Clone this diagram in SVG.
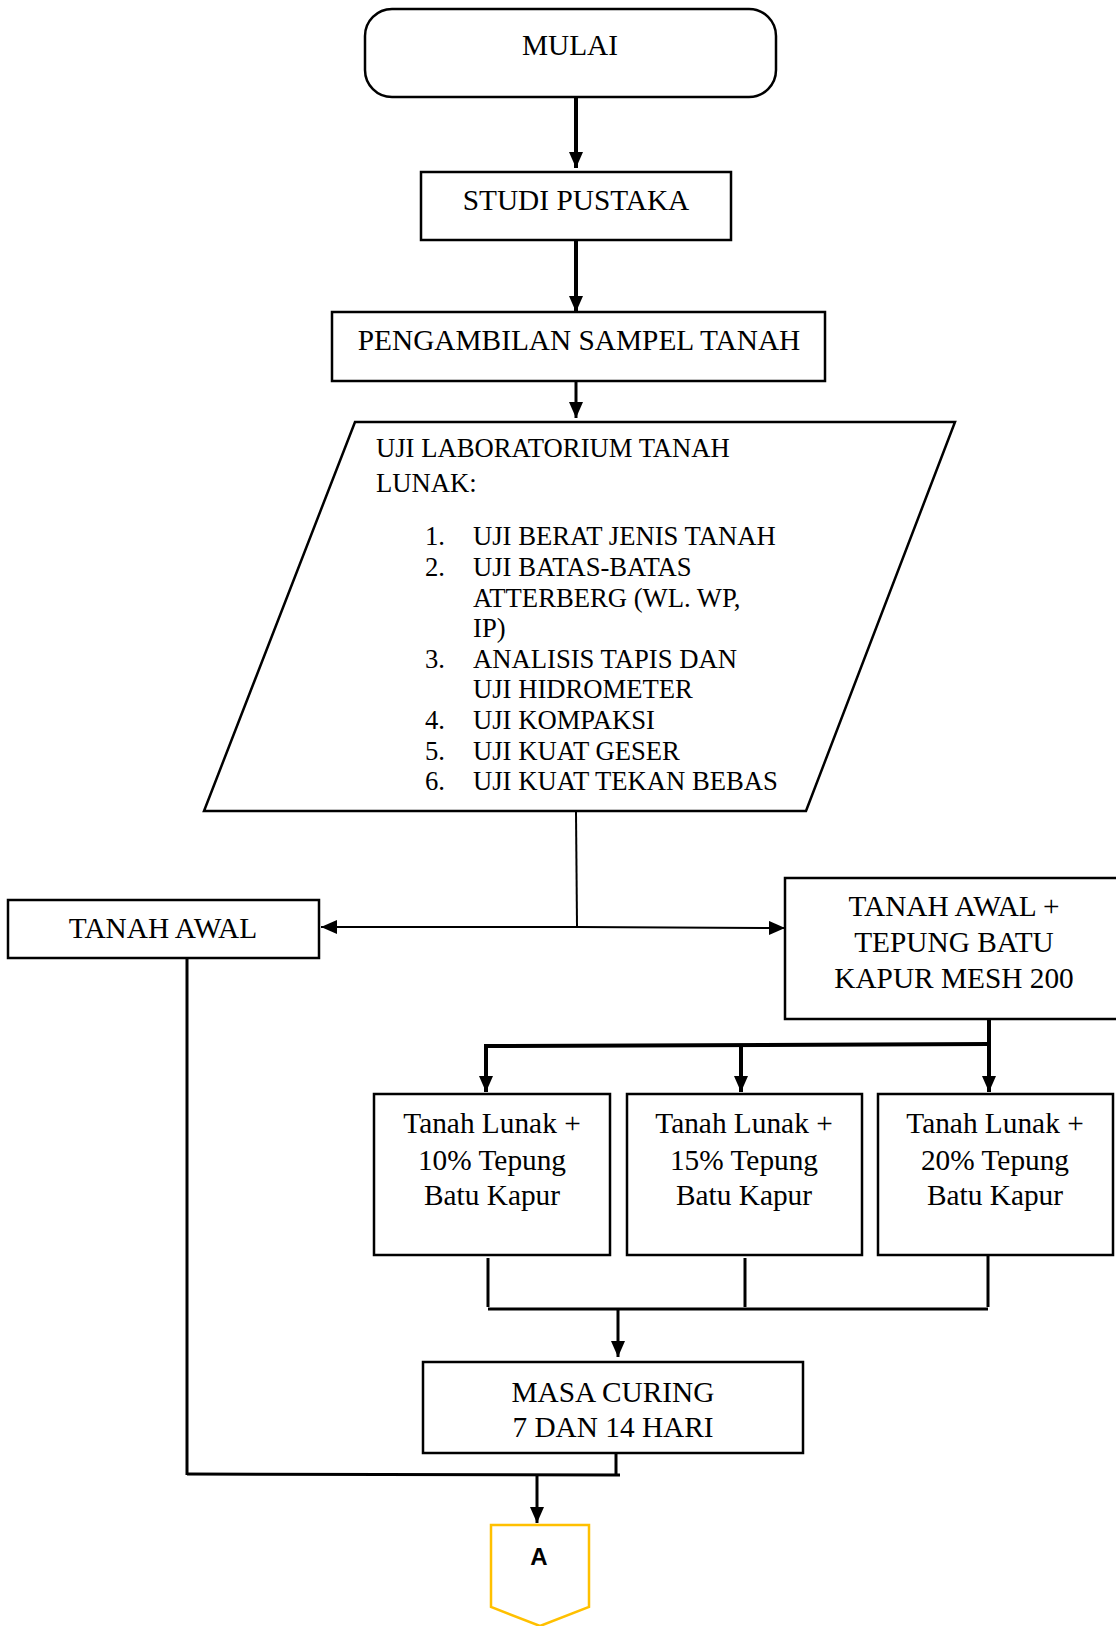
<svg xmlns="http://www.w3.org/2000/svg" width="1116" height="1626" viewBox="0 0 1116 1626">
<style>
.box{fill:#fff;stroke:#000;stroke-width:2.5}
.t{font-family:"Liberation Serif","Times New Roman",serif;font-size:29.33px;fill:#000}
.tc{text-anchor:middle}
.s{font-size:26.67px}
.ln{fill:none;stroke:#000}
.thick{stroke-width:4}
.thin{stroke-width:2}
.mid{stroke-width:3}
</style>
<defs>
<marker id="arr" markerUnits="userSpaceOnUse" markerWidth="16" markerHeight="14" viewBox="0 0 16 14" refX="16" refY="7" orient="auto">
<path d="M0,0 L16,7 L0,14 z" fill="#000"/>
</marker>
</defs>
<rect width="1116" height="1626" fill="#fff"/>
<g id="connectors">
<line class="ln thick" x1="576" y1="97" x2="576" y2="168" marker-end="url(#arr)"/>
<line class="ln thick" x1="576" y1="240" x2="576" y2="312" marker-end="url(#arr)"/>
<line class="ln mid" x1="576" y1="381" x2="576" y2="418" marker-end="url(#arr)"/>
<line class="ln thin" x1="576" y1="812" x2="577" y2="926"/>
<line class="ln thin" x1="577" y1="927" x2="321" y2="927" marker-end="url(#arr)"/>
<line class="ln thin" x1="577" y1="927" x2="785" y2="928" marker-end="url(#arr)"/>
<line class="ln thick" x1="989" y1="1019" x2="989" y2="1092" marker-end="url(#arr)"/>
<polyline class="ln thick" points="989,1044 486,1046 486,1092" marker-end="url(#arr)"/>
<line class="ln thick" x1="741" y1="1045" x2="741" y2="1092" marker-end="url(#arr)"/>
<line class="ln mid" x1="488" y1="1258" x2="488" y2="1307"/>
<line class="ln mid" x1="745" y1="1258" x2="745" y2="1307"/>
<line class="ln mid" x1="988" y1="1256" x2="988" y2="1307"/>
<line class="ln mid" x1="488" y1="1309" x2="988" y2="1309"/>
<line class="ln mid" x1="618" y1="1310" x2="618" y2="1357" marker-end="url(#arr)"/>
<line class="ln mid" x1="187" y1="959" x2="187" y2="1475"/>
<line class="ln mid" x1="187" y1="1474" x2="620" y2="1475"/>
<line class="ln mid" x1="616" y1="1450" x2="616" y2="1474"/>
<line class="ln mid" x1="537" y1="1475" x2="537" y2="1523" marker-end="url(#arr)"/>
</g>
<g id="mulai">
<rect class="box" x="365" y="9" width="411" height="88" rx="27" ry="27"/>
<text class="t tc" x="570" y="55">MULAI</text>
</g>
<g id="studi-pustaka">
<rect class="box" x="421" y="172" width="310" height="68"/>
<text class="t tc" x="576" y="210">STUDI PUSTAKA</text>
</g>
<g id="pengambilan">
<rect class="box" x="332" y="312" width="493" height="69"/>
<text class="t tc" x="579" y="350">PENGAMBILAN SAMPEL TANAH</text>
</g>
<g id="uji-lab">
<polygon class="box" points="355,422 955,422 806,811 204,811"/>
<text class="t s" x="376" y="457">UJI LABORATORIUM TANAH</text>
<text class="t s" x="376" y="492">LUNAK:</text>
<text class="t s" x="425" y="545">1.</text><text class="t s" x="473" y="545">UJI BERAT JENIS TANAH</text>
<text class="t s" x="425" y="576">2.</text><text class="t s" x="473" y="576">UJI BATAS-BATAS</text>
<text class="t s" x="473" y="607">ATTERBERG (WL. WP,</text>
<text class="t s" x="473" y="637">IP)</text>
<text class="t s" x="425" y="668">3.</text><text class="t s" x="473" y="668">ANALISIS TAPIS DAN</text>
<text class="t s" x="473" y="698">UJI HIDROMETER</text>
<text class="t s" x="425" y="729">4.</text><text class="t s" x="473" y="729">UJI KOMPAKSI</text>
<text class="t s" x="425" y="760">5.</text><text class="t s" x="473" y="760">UJI KUAT GESER</text>
<text class="t s" x="425" y="790">6.</text><text class="t s" x="473" y="790">UJI KUAT TEKAN BEBAS</text>
</g>
<g id="tanah-awal">
<rect class="box" x="8" y="900" width="311" height="58"/>
<text class="t tc" x="163" y="938">TANAH AWAL</text>
</g>
<g id="tanah-awal-tepung">
<rect class="box" x="785" y="878" width="340" height="141"/>
<text class="t tc" x="954" y="916">TANAH AWAL +</text>
<text class="t tc" x="954" y="952">TEPUNG BATU</text>
<text class="t tc" x="954" y="988">KAPUR MESH 200</text>
</g>
<g id="tl-10">
<rect class="box" x="374" y="1094" width="236" height="161"/>
<text class="t tc" x="492" y="1133">Tanah Lunak +</text>
<text class="t tc" x="492" y="1170">10% Tepung</text>
<text class="t tc" x="492" y="1205">Batu Kapur</text>
</g>
<g id="tl-15">
<rect class="box" x="627" y="1094" width="235" height="161"/>
<text class="t tc" x="744" y="1133">Tanah Lunak +</text>
<text class="t tc" x="744" y="1170">15% Tepung</text>
<text class="t tc" x="744" y="1205">Batu Kapur</text>
</g>
<g id="tl-20">
<rect class="box" x="878" y="1094" width="235" height="161"/>
<text class="t tc" x="995" y="1133">Tanah Lunak +</text>
<text class="t tc" x="995" y="1170">20% Tepung</text>
<text class="t tc" x="995" y="1205">Batu Kapur</text>
</g>
<g id="masa-curing">
<rect class="box" x="423" y="1362" width="380" height="91"/>
<text class="t tc" x="613" y="1402">MASA CURING</text>
<text class="t tc" x="613" y="1437">7 DAN 14 HARI</text>
</g>
<g id="connector-a">
<polygon points="491,1525 589,1525 589,1607 540,1626 491,1607" fill="#fff" stroke="#FFC000" stroke-width="2.5"/>
<text x="539" y="1565" text-anchor="middle" font-family="'Liberation Sans',Arial,sans-serif" font-weight="bold" font-size="24" fill="#000">A</text>
</g>
</svg>
